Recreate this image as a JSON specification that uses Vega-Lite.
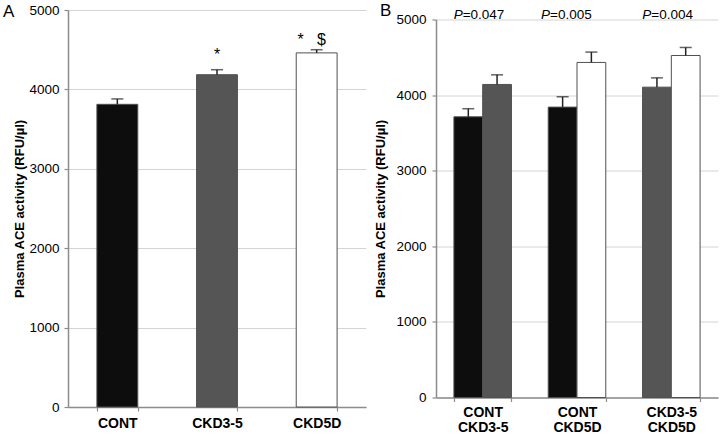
{
  "$schema": "https://vega.github.io/schema/vega-lite/v6.json",
  "padding": {"left": 2, "top": 1, "right": 2, "bottom": 0},
  "spacing": 70,
  "bounds": "flush",
  "center": true,
  "background": "white",
  "config": {
    "font": "Liberation Sans",
    "view": {"stroke": null},
    "axis": {
      "labelFont": "Liberation Sans",
      "titleFont": "Liberation Sans",
      "labelColor": "#000000",
      "titleColor": "#000000",
      "domainColor": "#8c8c8c",
      "domainWidth": 1.5,
      "tickColor": "#8c8c8c",
      "tickWidth": 1.2,
      "gridColor": "#d4d4d4",
      "gridWidth": 1
    },
    "title": {"font": "Liberation Sans", "fontSize": 17, "fontWeight": "normal", "color": "#000000", "anchor": "start", "frame": "bounds", "baseline": "top"}
  },
  "datasets": {
    "panelA": [
      {"group": "CONT", "value": 3812, "upper": 3880},
      {"group": "CKD3-5", "value": 4185, "upper": 4248},
      {"group": "CKD5D", "value": 4460, "upper": 4500}
    ],
    "sigA": [
      {"group": "CKD3-5", "upper": 4248, "mark": "*"},
      {"group": "CKD5D", "upper": 4500, "mark": "*\u00a0\u00a0\u00a0$"}
    ],
    "panelB": [
      {"pair": "CONT|CKD3-5", "slot": 1, "group": "CONT", "value": 3713, "upper": 3820},
      {"pair": "CONT|CKD3-5", "slot": 2, "group": "CKD3-5", "value": 4141, "upper": 4268},
      {"pair": "CONT|CKD5D", "slot": 1, "group": "CONT", "value": 3841, "upper": 3977},
      {"pair": "CONT|CKD5D", "slot": 2, "group": "CKD5D", "value": 4432, "upper": 4569},
      {"pair": "CKD3-5|CKD5D", "slot": 1, "group": "CKD3-5", "value": 4105, "upper": 4228},
      {"pair": "CKD3-5|CKD5D", "slot": 2, "group": "CKD5D", "value": 4524, "upper": 4630}
    ],
    "pvals": [
      {"pair": "CONT|CKD3-5", "p": "=0.047"},
      {"pair": "CONT|CKD5D", "p": "=0.005"},
      {"pair": "CKD3-5|CKD5D", "p": "=0.004"}
    ]
  },
  "hconcat": [
    {
      "width": 298,
      "height": 397,
      "title": {"text": "A", "offset": -18, "dx": -11},
      "encoding": {
        "x": {
          "field": "group", "type": "nominal", "sort": ["CONT", "CKD3-5", "CKD5D"],
          "scale": {"paddingInner": 0.59, "paddingOuter": 0.29},
          "axis": {"title": null, "labelAngle": 0, "labelFontSize": 14, "labelFontWeight": "bold", "tickBand": "extent", "tickSize": 4, "labelPadding": 5, "grid": false}
        }
      },
      "layer": [
        {
          "data": {"name": "panelA"},
          "mark": {"type": "bar", "stroke": "#505050", "strokeWidth": 1},
          "encoding": {
            "y": {
              "field": "value", "type": "quantitative",
              "scale": {"domain": [0, 5000], "nice": false},
              "axis": {"values": [0, 1000, 2000, 3000, 4000, 5000], "format": "d", "title": "Plasma ACE activity (RFU/µl)", "titleFontSize": 13, "titleFontWeight": "bold", "titlePadding": 2, "labelFontSize": 13.5, "tickSize": 4, "labelPadding": 5, "grid": true}
            },
            "color": {
              "field": "group", "type": "nominal", "legend": null,
              "scale": {"domain": ["CONT", "CKD3-5", "CKD5D"], "range": ["#0d0d0d", "#555555", "#ffffff"]}
            }
          }
        },
        {
          "data": {"name": "panelA"},
          "mark": {"type": "rule", "color": "#222222", "strokeWidth": 1.5},
          "encoding": {"y": {"field": "value", "type": "quantitative"}, "y2": {"field": "upper"}}
        },
        {
          "data": {"name": "panelA"},
          "mark": {"type": "tick", "color": "#222222", "size": 12, "thickness": 1.5},
          "encoding": {"y": {"field": "upper", "type": "quantitative"}}
        },
        {
          "data": {"name": "sigA"},
          "transform": [{"filter": "datum.group === 'CKD3-5'"}],
          "mark": {"type": "text", "fontSize": 16, "baseline": "alphabetic", "dy": -10, "color": "#000000"},
          "encoding": {"y": {"field": "upper", "type": "quantitative"}, "text": {"field": "mark"}}
        },
        {
          "data": {"name": "sigA"},
          "transform": [{"filter": "datum.group === 'CKD5D'"}],
          "mark": {"type": "text", "fontSize": 16, "baseline": "alphabetic", "dy": -5, "dx": -5, "color": "#000000"},
          "encoding": {"y": {"field": "upper", "type": "quantitative"}, "text": {"field": "mark"}}
        }
      ]
    },
    {
      "width": 282,
      "height": 378,
      "title": {"text": "B", "offset": -12, "dx": 5},
      "encoding": {
        "x": {
          "field": "pair", "type": "nominal", "sort": ["CONT|CKD3-5", "CONT|CKD5D", "CKD3-5|CKD5D"],
          "scale": {"paddingInner": 0.39, "paddingOuter": 0.19},
          "axis": {"title": null, "labelAngle": 0, "labelFontSize": 14, "labelFontWeight": "bold", "labelLineHeight": 14.5, "labelExpr": "split(datum.label, '|')", "tickBand": "extent", "tickSize": 4, "labelPadding": 4, "grid": false}
        }
      },
      "layer": [
        {
          "data": {"name": "panelB"},
          "mark": {"type": "bar", "stroke": "#505050", "strokeWidth": 1},
          "encoding": {
            "xOffset": {"field": "slot", "type": "nominal", "scale": {"paddingInner": 0, "paddingOuter": 0}},
            "y": {
              "field": "value", "type": "quantitative",
              "scale": {"domain": [0, 5000], "nice": false},
              "axis": {"values": [0, 1000, 2000, 3000, 4000, 5000], "format": "d", "title": "Plasma ACE activity (RFU/µl)", "titleFontSize": 13, "titleFontWeight": "bold", "titlePadding": 8, "labelFontSize": 13.5, "tickSize": 4, "labelPadding": 6, "grid": true}
            },
            "color": {
              "field": "group", "type": "nominal", "legend": null,
              "scale": {"domain": ["CONT", "CKD3-5", "CKD5D"], "range": ["#0d0d0d", "#555555", "#ffffff"]}
            }
          }
        },
        {
          "data": {"name": "panelB"},
          "mark": {"type": "rule", "color": "#222222", "strokeWidth": 1.5},
          "encoding": {
            "xOffset": {"field": "slot", "type": "nominal"},
            "y": {"field": "value", "type": "quantitative"}, "y2": {"field": "upper"}
          }
        },
        {
          "data": {"name": "panelB"},
          "mark": {"type": "tick", "color": "#222222", "size": 12, "thickness": 1.5},
          "encoding": {
            "xOffset": {"field": "slot", "type": "nominal"},
            "y": {"field": "upper", "type": "quantitative"}
          }
        },
        {
          "data": {"name": "pvals"},
          "transform": [{"filter": "datum.pair !== 'CONT|CKD5D'"}],
          "mark": {"type": "text", "text": "P", "fontStyle": "italic", "fontSize": 13.5, "align": "right", "baseline": "alphabetic", "dx": -20, "dy": -1, "color": "#000000"},
          "encoding": {"y": {"datum": 5000, "type": "quantitative"}}
        },
        {
          "data": {"name": "pvals"},
          "transform": [{"filter": "datum.pair !== 'CONT|CKD5D'"}],
          "mark": {"type": "text", "fontSize": 13.5, "align": "left", "baseline": "alphabetic", "dx": -20, "dy": -1, "color": "#000000"},
          "encoding": {"y": {"datum": 5000, "type": "quantitative"}, "text": {"field": "p"}}
        },
        {
          "data": {"name": "pvals"},
          "transform": [{"filter": "datum.pair === 'CONT|CKD5D'"}],
          "mark": {"type": "text", "text": "P", "fontStyle": "italic", "fontSize": 13.5, "align": "right", "baseline": "alphabetic", "dx": -27, "dy": -1, "color": "#000000"},
          "encoding": {"y": {"datum": 5000, "type": "quantitative"}}
        },
        {
          "data": {"name": "pvals"},
          "transform": [{"filter": "datum.pair === 'CONT|CKD5D'"}],
          "mark": {"type": "text", "fontSize": 13.5, "align": "left", "baseline": "alphabetic", "dx": -27, "dy": -1, "color": "#000000"},
          "encoding": {"y": {"datum": 5000, "type": "quantitative"}, "text": {"field": "p"}}
        }
      ]
    }
  ]
}
